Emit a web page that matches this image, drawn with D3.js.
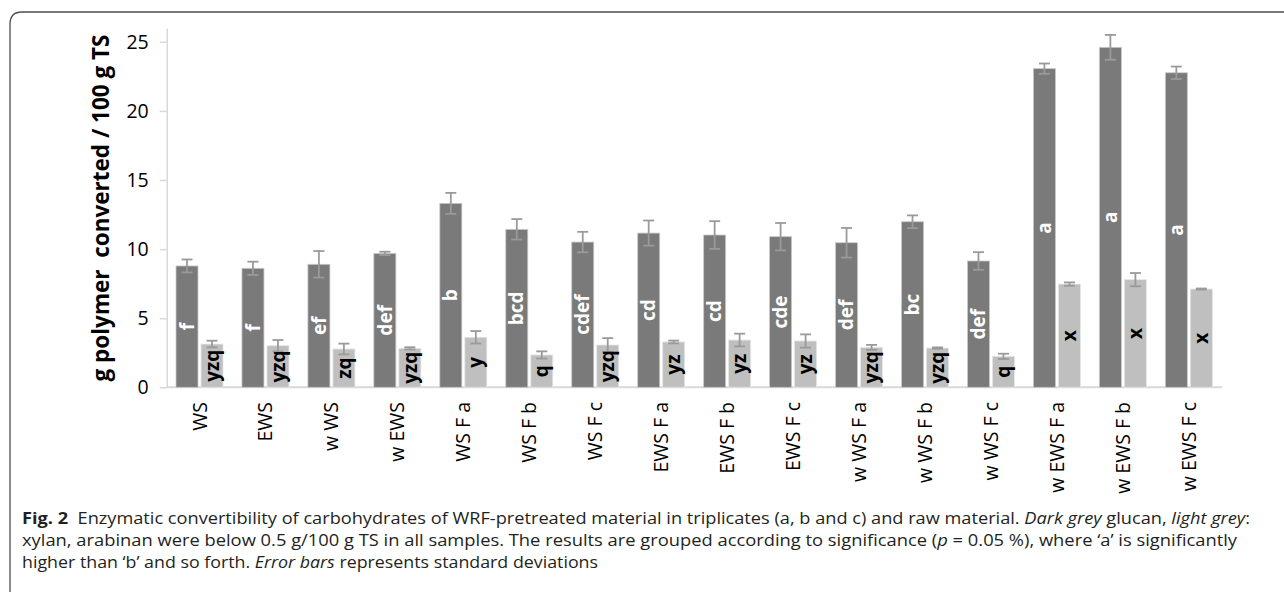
<!DOCTYPE html>
<html>
<head>
<meta charset="utf-8">
<script src="https://cdn.jsdelivr.net/npm/d3@7"></script>
<style>
  html, body { margin: 0; padding: 0; background: #fff; }
  svg { display: block; }
</style>
</head>
<body>
<svg id="chart" width="1284" height="592"></svg>
<script>
const categories = ["WS","EWS","w WS","w EWS","WS F a","WS F b","WS F c","EWS F a","EWS F b","EWS F c","w WS F a","w WS F b","w WS F c","w EWS F a","w EWS F b","w EWS F c"];
const glucan    = [8.78, 8.61, 8.90, 9.69, 13.31, 11.43, 10.51, 11.16, 11.02, 10.90, 10.46, 11.98, 9.14, 23.06, 24.60, 22.76];
const glucanSD  = [0.47, 0.48, 0.96, 0.12, 0.76, 0.74, 0.74, 0.91, 1.00, 0.99, 1.07, 0.46, 0.64, 0.37, 0.90, 0.45];
const xylan     = [3.13, 3.01, 2.77, 2.82, 3.62, 2.34, 3.06, 3.28, 3.42, 3.35, 2.89, 2.84, 2.24, 7.47, 7.79, 7.11];
const xylanSD   = [0.24, 0.41, 0.39, 0.08, 0.45, 0.26, 0.50, 0.10, 0.46, 0.48, 0.18, 0.05, 0.19, 0.12, 0.48, 0.04];
const glucanGroups = ["f","f","ef","def","b","bcd","cdef","cd","cd","cde","def","bc","def","a","a","a"];
const xylanGroups  = ["yzq","yzq","zq","yzq","y","q","yzq","yz","yz","yz","yzq","yzq","q","x","x","x"];
const yTicks = [0, 5, 10, 15, 20, 25];
const yTitle = "g polymer\u00a0\u00a0converted / 100 g TS";

const svg = d3.select("#chart");
const FONT = "'Open Sans', 'Noto Sans', sans-serif";

// frame
svg.append("path")
  .attr("d", "M10,592 L10,24 Q10,12 22,12 L1284,12")
  .attr("fill", "none").attr("stroke", "#4d4d4d").attr("stroke-width", 1.3);

const x = d3.scaleBand().domain(categories).range([166.7, 1222]).padding(0);
const sub = d3.scaleBand().domain(["glucan","xylan"]).range([9.3, 56.3]).paddingInner(0.12);
const y = d3.scaleLinear().domain([0, 26]).range([387.3, 28]);

// y axis
const yAxis = svg.append("g").attr("transform", "translate(166.7,0)")
  .call(d3.axisLeft(y).tickValues(yTicks).tickSize(7).tickSizeOuter(0).tickPadding(11));
yAxis.select(".domain").attr("stroke", "#d9d9d9").attr("stroke-width", 1.5);
yAxis.selectAll(".tick line").attr("stroke", "#d9d9d9").attr("stroke-width", 1.5);
yAxis.selectAll(".tick text").attr("font-family", FONT).attr("font-size", 19.5).attr("fill", "#000");

// x axis line
svg.append("line").attr("x1", x.range()[0]).attr("x2", x.range()[1])
  .attr("y1", y(0)).attr("y2", y(0)).attr("stroke", "#d9d9d9").attr("stroke-width", 2);

const data = categories.map((c, i) => ({
  c, g: glucan[i], gsd: glucanSD[i], xv: xylan[i], xsd: xylanSD[i], gg: glucanGroups[i], xg: xylanGroups[i]
}));

const grp = svg.append("g").selectAll("g").data(data).join("g")
  .attr("transform", d => `translate(${x(d.c)},0)`);

// bars
grp.append("rect")
  .attr("x", sub("glucan")).attr("width", sub.bandwidth())
  .attr("y", d => y(d.g)).attr("height", d => y(0) - y(d.g))
  .attr("fill", "#7a7a7a").attr("stroke", "#c8c8c8").attr("stroke-width", 0.8);
grp.append("rect")
  .attr("x", sub("xylan")).attr("width", sub.bandwidth())
  .attr("y", d => y(d.xv)).attr("height", d => y(0) - y(d.xv))
  .attr("fill", "#bfbfbf").attr("stroke", "#e6e6e6").attr("stroke-width", 0.8);

// error bars
function errBars(key, valF, sdF) {
  const cx = sub(key) + sub.bandwidth() / 2;
  const eb = grp.append("g").attr("stroke", "#9a9a9a").attr("stroke-width", 1.8);
  eb.append("line").attr("x1", cx).attr("x2", cx)
    .attr("y1", d => y(valF(d) + sdF(d))).attr("y2", d => y(valF(d) - sdF(d)));
  eb.append("line").attr("x1", cx - 5.5).attr("x2", cx + 5.5)
    .attr("y1", d => y(valF(d) + sdF(d))).attr("y2", d => y(valF(d) + sdF(d)));
  eb.append("line").attr("x1", cx - 5.5).attr("x2", cx + 5.5)
    .attr("y1", d => y(valF(d) - sdF(d))).attr("y2", d => y(valF(d) - sdF(d)));
}
errBars("glucan", d => d.g, d => d.gsd);
errBars("xylan", d => d.xv, d => d.xsd);

// in-bar labels
function barLabels(key, valF, txtF, color) {
  const cx = sub(key) + sub.bandwidth() / 2;
  grp.append("text")
    .attr("transform", d => `translate(${cx},${y(valF(d) / 2)}) rotate(-90)`)
    .attr("text-anchor", "middle").attr("dy", "0.35em")
    .attr("font-family", FONT).attr("font-weight", "bold").attr("font-size", 19)
    .attr("fill", color).text(txtF);
}
barLabels("glucan", d => d.g, d => d.gg, "#fff");
barLabels("xylan", d => d.xv, d => d.xg, "#000");

// category labels
grp.append("text")
  .attr("transform", `translate(${x.bandwidth() / 2},402) rotate(-90)`)
  .attr("text-anchor", "end").attr("dy", "0.35em")
  .attr("font-family", FONT).attr("font-size", 19.5).attr("fill", "#000")
  .text(d => d.c);

// y title
svg.append("text")
  .attr("transform", "translate(101,208) rotate(-90)")
  .attr("text-anchor", "middle").attr("dy", "0.35em")
  .attr("font-family", FONT).attr("font-weight", "bold").attr("font-size", 22.5)
  .attr("fill", "#000").text(yTitle);

// caption
const CAP = "'Liberation Sans Narrow', 'Open Sans', sans-serif";
function capLine(yy, len, parts) {
  const t = svg.append("text").attr("x", 22).attr("y", yy)
    .attr("font-family", CAP).attr("font-size", 16.5).attr("fill", "#231f20")
    .attr("textLength", len).attr("lengthAdjust", "spacingAndGlyphs");
  parts.forEach(p => {
    const s = t.append("tspan").text(p[0]);
    if (p[1] === "b") s.attr("font-weight", "bold");
    if (p[1] === "i") s.attr("font-style", "italic");
  });
}
capLine(524, 1228, [
  ["Fig. 2", "b"],
  ["\u00a0\u00a0Enzymatic convertibility of carbohydrates of WRF-pretreated material in triplicates (a, b and c) and raw material. ", ""],
  ["Dark grey", "i"], [" glucan, ", ""], ["light grey", "i"], [":", ""]
]);
capLine(546, 1215, [
  ["xylan, arabinan were below 0.5 g/100 g TS in all samples. The results are grouped according to significance (", ""],
  ["p", "i"], [" = 0.05 %), where \u2018a\u2019 is significantly", ""]
]);
capLine(568, 576, [
  ["higher than \u2018b\u2019 and so forth. ", ""], ["Error bars", "i"], [" represents standard deviations", ""]
]);
</script>
</body>
</html>
